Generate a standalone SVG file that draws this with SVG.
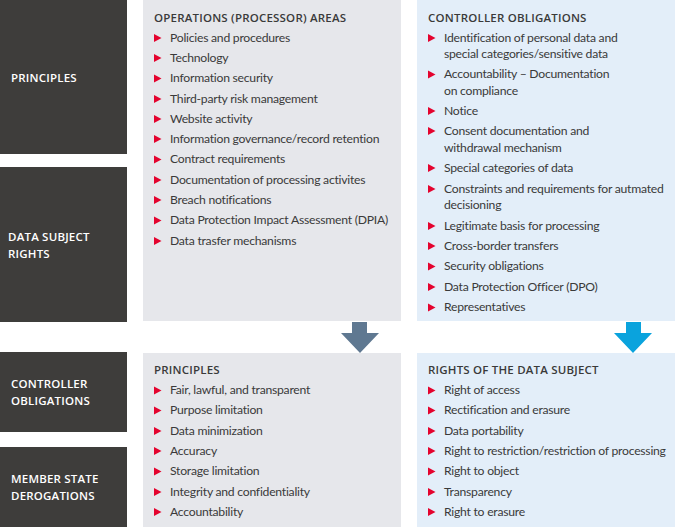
<svg xmlns="http://www.w3.org/2000/svg" width="675" height="527" viewBox="0 0 675 527">
<style>
.dark{fill:#3e3d3b}
.grey{fill:#e6e7eb}
.blue{fill:#e3eef9}
.lbl{font-family:"Open Sans","Noto Sans",sans-serif;font-size:11.5px;font-weight:600;fill:#ffffff;letter-spacing:0.2px}
.hd{font-family:"Open Sans","Noto Sans",sans-serif;font-size:11.5px;font-weight:600;fill:#3a3a3a;letter-spacing:0.2px}
.it{font-family:Lato,"Open Sans",sans-serif;font-size:12.2px;fill:#3a3a3a;letter-spacing:-0.25px}
.b{fill:#e4032e}
</style>
<defs>
<path id="bul" d="M0,-4 L7.5,0 L0,4 Z"/>
</defs>
<g id="label-principles"><rect class="dark" x="0" y="0" width="127" height="154"/><text class="lbl" x="11" y="82">PRINCIPLES</text></g>
<g id="label-data-subject-rights"><rect class="dark" x="0" y="167" width="127" height="155"/><text class="lbl" x="8" y="241">DATA SUBJECT</text><text class="lbl" x="8" y="258">RIGHTS</text></g>
<g id="label-controller-obligations"><rect class="dark" x="0" y="352" width="127" height="80"/><text class="lbl" x="11" y="388">CONTROLLER</text><text class="lbl" x="11" y="405">OBLIGATIONS</text></g>
<g id="label-member-state"><rect class="dark" x="0" y="447" width="127" height="80"/><text class="lbl" x="11" y="483">MEMBER STATE</text><text class="lbl" x="11" y="500">DEROGATIONS</text></g>

<g id="operations-areas">
<rect class="grey" x="143" y="0" width="258" height="321"/>
<text class="hd" x="154" y="21.5">OPERATIONS (PROCESSOR) AREAS</text>
<g class="b">
<use href="#bul" x="154" y="38"/><use href="#bul" x="154" y="58"/><use href="#bul" x="154" y="78.5"/><use href="#bul" x="154" y="99"/><use href="#bul" x="154" y="119"/><use href="#bul" x="154" y="139"/><use href="#bul" x="154" y="159.5"/><use href="#bul" x="154" y="180"/><use href="#bul" x="154" y="200"/><use href="#bul" x="154" y="220.5"/><use href="#bul" x="154" y="241"/>
</g>
<g class="it">
<text x="170" y="41.5">Policies and procedures</text>
<text x="170" y="61.5">Technology</text>
<text x="170" y="82">Information security</text>
<text x="170" y="102.5">Third-party risk management</text>
<text x="170" y="122.5">Website activity</text>
<text x="170" y="142.5">Information governance/record retention</text>
<text x="170" y="163">Contract requirements</text>
<text x="170" y="183.5">Documentation of processing activites</text>
<text x="170" y="203.5">Breach notifications</text>
<text x="170" y="224">Data Protection Impact Assessment (DPIA)</text>
<text x="170" y="244.5">Data trasfer mechanisms</text>
</g>
</g>

<g id="controller-obligations">
<rect class="blue" x="417" y="0" width="258" height="321"/>
<text class="hd" x="428" y="21.5">CONTROLLER OBLIGATIONS</text>
<g class="b">
<use href="#bul" x="428" y="38"/><use href="#bul" x="428" y="74.5"/><use href="#bul" x="428" y="111"/><use href="#bul" x="428" y="131"/><use href="#bul" x="428" y="168"/><use href="#bul" x="428" y="189"/><use href="#bul" x="428" y="226"/><use href="#bul" x="428" y="246"/><use href="#bul" x="428" y="266.5"/><use href="#bul" x="428" y="287"/><use href="#bul" x="428" y="307.5"/>
</g>
<g class="it">
<text x="444" y="41.5">Identification of personal data and</text>
<text x="444" y="58">special categories/sensitive data</text>
<text x="444" y="78">Accountability – Documentation</text>
<text x="444" y="95">on compliance</text>
<text x="444" y="115">Notice</text>
<text x="444" y="135">Consent documentation and</text>
<text x="444" y="151.5">withdrawal mechanism</text>
<text x="444" y="172">Special categories of data</text>
<text x="444" y="192.5">Constraints and requirements for autmated</text>
<text x="444" y="209">decisioning</text>
<text x="444" y="229.5">Legitimate basis for processing</text>
<text x="444" y="250">Cross-border transfers</text>
<text x="444" y="270">Security obligations</text>
<text x="444" y="290.5">Data Protection Officer (DPO)</text>
<text x="444" y="311">Representatives</text>
</g>
</g>

<g id="principles">
<rect class="grey" x="143" y="353" width="258" height="174"/>
<text class="hd" x="154" y="373.5">PRINCIPLES</text>
<g class="b">
<use href="#bul" x="154" y="390.5"/><use href="#bul" x="154" y="410.5"/><use href="#bul" x="154" y="431"/><use href="#bul" x="154" y="451"/><use href="#bul" x="154" y="471.5"/><use href="#bul" x="154" y="492"/><use href="#bul" x="154" y="512"/>
</g>
<g class="it">
<text x="170" y="394">Fair, lawful, and transparent</text>
<text x="170" y="414">Purpose limitation</text>
<text x="170" y="434.5">Data minimization</text>
<text x="170" y="455">Accuracy</text>
<text x="170" y="475">Storage limitation</text>
<text x="170" y="495.5">Integrity and confidentiality</text>
<text x="170" y="516">Accountability</text>
</g>
</g>

<g id="rights-of-data-subject">
<rect class="blue" x="417" y="353" width="258" height="174"/>
<text class="hd" x="428" y="373.5">RIGHTS OF THE DATA SUBJECT</text>
<g class="b">
<use href="#bul" x="428" y="390.5"/><use href="#bul" x="428" y="410.5"/><use href="#bul" x="428" y="431"/><use href="#bul" x="428" y="451"/><use href="#bul" x="428" y="471.5"/><use href="#bul" x="428" y="492"/><use href="#bul" x="428" y="512"/>
</g>
<g class="it">
<text x="444" y="394">Right of access</text>
<text x="444" y="414">Rectification and erasure</text>
<text x="444" y="434.5">Data portability</text>
<text x="444" y="455">Right to restriction/restriction of processing</text>
<text x="444" y="475">Right to object</text>
<text x="444" y="495.5">Transparency</text>
<text x="444" y="516">Right to erasure</text>
</g>
</g>

<g id="connectors">
<path d="M352,322 H367 V333 H379 L360,353 L341,333 H352 Z" fill="#5f7891"/>
<path d="M626,322 H641 V333 H652 L633,353 L614,333 H626 Z" fill="#0aa3dd"/>
</g>
</svg>
